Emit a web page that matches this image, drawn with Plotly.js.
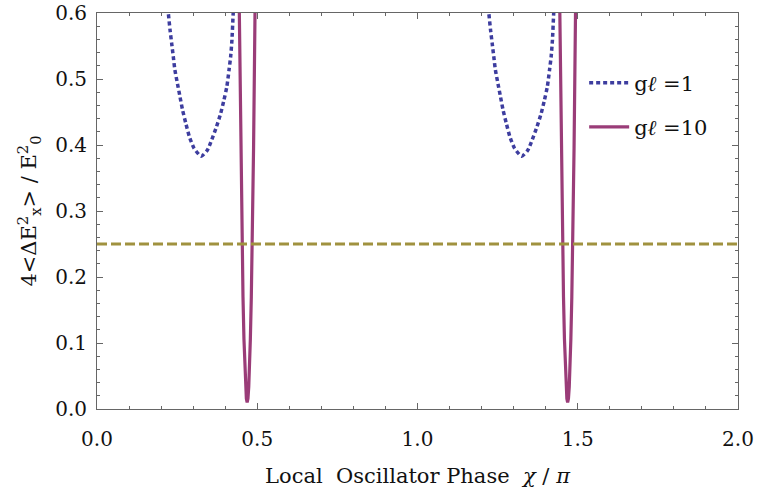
<!DOCTYPE html>
<html>
<head>
<meta charset="utf-8">
<script src="https://cdn.plot.ly/plotly-3.0.1.min.js"></script>
<style>html,body{margin:0;padding:0;background:#fff;}#chart{width:757px;height:493px;}</style>
</head>
<body>
<div id="chart"></div>
<script>
// gℓ = 1 (dotted), two dips, separated by null
const g1X = [0.215, 0.2225, 0.228, 0.233, 0.238, 0.243, 0.251, 0.259, 0.267, 0.277, 0.288, 0.303, 0.325, 0.344, 0.358, 0.373, 0.386, 0.396, 0.405, 0.412, 0.417, 0.421, 0.425, 0.430,
  null,
  1.215, 1.2225, 1.228, 1.233, 1.238, 1.243, 1.251, 1.259, 1.267, 1.277, 1.288, 1.303, 1.325, 1.344, 1.358, 1.373, 1.386, 1.396, 1.405, 1.412, 1.417, 1.421, 1.425, 1.430];
const g1Y = [0.64, 0.600, 0.574, 0.554, 0.534, 0.514, 0.493, 0.473, 0.453, 0.433, 0.413, 0.395, 0.383, 0.392, 0.408, 0.428, 0.448, 0.468, 0.488, 0.514, 0.534, 0.559, 0.600, 0.64,
  null,
  0.64, 0.600, 0.574, 0.554, 0.534, 0.514, 0.493, 0.473, 0.453, 0.433, 0.413, 0.395, 0.383, 0.392, 0.408, 0.428, 0.448, 0.468, 0.488, 0.514, 0.534, 0.559, 0.600, 0.64];

// gℓ = 10 (solid), two narrow dips
const g10X = [0.4425, 0.444, 0.4485, 0.4525, 0.4555, 0.4585, 0.461, 0.4635, 0.466, 0.4685, 0.471, 0.4735, 0.476, 0.4785, 0.4815, 0.4845, 0.4885, 0.493, 0.4945,
  null,
  1.4425, 1.444, 1.4485, 1.4525, 1.4555, 1.4585, 1.461, 1.4635, 1.466, 1.4685, 1.471, 1.4735, 1.476, 1.4785, 1.4815, 1.4845, 1.4885, 1.493, 1.4945];
const g10Y = [0.66, 0.60, 0.395, 0.25, 0.17, 0.106, 0.064, 0.034, 0.016, 0.010, 0.016, 0.034, 0.064, 0.106, 0.17, 0.25, 0.395, 0.60, 0.66,
  null,
  0.66, 0.60, 0.395, 0.25, 0.17, 0.106, 0.064, 0.034, 0.016, 0.010, 0.016, 0.034, 0.064, 0.106, 0.17, 0.25, 0.395, 0.60, 0.66];

// reference level
const refX = [0, 2];
const refY = [0.25, 0.25];

const xTicks = [0, 0.5, 1, 1.5, 2];
const xTickText = ["0.0", "0.5", "1.0", "1.5", "2.0"];
const yTicks = [0, 0.1, 0.2, 0.3, 0.4, 0.5, 0.6];
const yTickText = ["0.0", "0.1", "0.2", "0.3", "0.4", "0.5", "0.6"];

const FONT = "DejaVu Serif";

const traces = [
  {x: g1X, y: g1Y, mode: "lines", name: "g<i>ℓ</i> =1", legendgroup: "a",
   line: {color: "#3d3d9f", width: 3.5, dash: "4px,3px", shape: "spline", smoothing: 0.6}, connectgaps: false},
  {x: g10X, y: g10Y, mode: "lines", name: "g<i>ℓ</i> =10", legendgroup: "b",
   line: {color: "#9a3c78", width: 3.2}, connectgaps: false},
  {x: refX, y: refY, mode: "lines", showlegend: false,
   line: {color: "#a0923f", width: 3, dash: "10px,4px"}}
];

const axisCommon = {
  showgrid: false, zeroline: false, showline: true, linecolor: "#666", linewidth: 1,
  mirror: "ticks", ticks: "inside", ticklen: 6, tickwidth: 1, tickcolor: "#666",
  tickfont: {family: FONT, size: 20, color: "#111"}
};

const layout = {
  width: 757, height: 493,
  margin: {l: 97, r: 19, t: 13, b: 84},
  paper_bgcolor: "#fff", plot_bgcolor: "#fff",
  showlegend: true,
  legend: {x: 0.76, y: 0.875, xanchor: "left", yanchor: "top", bgcolor: "rgba(0,0,0,0)",
           font: {family: FONT, size: 21, color: "#111"}, tracegroupgap: 14, itemwidth: 40},
  xaxis: Object.assign({}, axisCommon, {
    range: [0, 2], tickvals: xTicks, ticktext: xTickText, ticklabelstandoff: 12,
    minor: {dtick: 0.1, ticks: "inside", ticklen: 3, tickcolor: "#666", showgrid: false},
    title: {text: "Local&nbsp; Oscillator Phase&nbsp; <i>χ</i> / <i>π</i>", standoff: 18,
            font: {family: FONT, size: 21, color: "#111"}}
  }),
  yaxis: Object.assign({}, axisCommon, {
    range: [0, 0.6], tickvals: yTicks, ticktext: yTickText, ticklabelstandoff: 5,
    minor: {dtick: 0.02, ticks: "inside", ticklen: 3, tickcolor: "#666", showgrid: false},
    title: {text: "4&lt;ΔE<sup>2</sup><sub>x</sub>&gt; / E<sup>2</sup><sub>0</sub>", standoff: 12,
            font: {family: FONT, size: 21, color: "#111"}}
  })
};

Plotly.newPlot("chart", traces, layout, {displayModeBar: false, staticPlot: true});
</script>
</body>
</html>
